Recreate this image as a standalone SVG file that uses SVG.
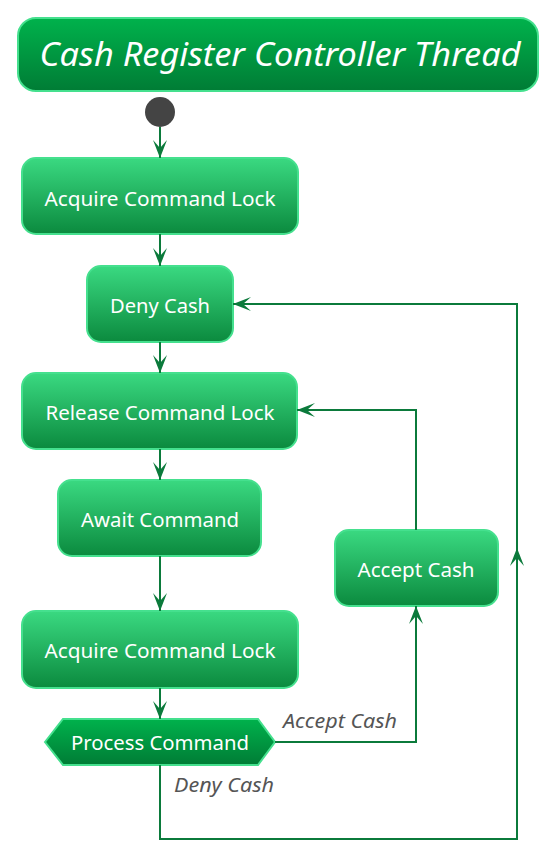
<svg xmlns="http://www.w3.org/2000/svg" width="560" height="857" viewBox="0 0 560 857">
<defs>
<linearGradient id="gNode" x1="0" y1="0" x2="0" y2="1">
<stop offset="0" stop-color="#3ad981"/>
<stop offset="1" stop-color="#0b8a3e"/>
</linearGradient>
<linearGradient id="gDark" x1="0" y1="0" x2="0" y2="1">
<stop offset="0" stop-color="#00b24c"/>
<stop offset="1" stop-color="#007c35"/>
</linearGradient>
<marker id="arr" markerUnits="userSpaceOnUse" viewBox="-20 -8 21 16" refX="0" refY="0" markerWidth="21" markerHeight="16" orient="auto">
<path d="M0,0 L-18,-7 L-10,0 L-18,7 Z" fill="#0b7a3b"/>
</marker>
<marker id="mid" markerUnits="userSpaceOnUse" viewBox="-20 -8 21 16" refX="0" refY="0" markerWidth="21" markerHeight="16" orient="auto">
<path d="M0,0 L-18,-7 L-10,0 L-18,7 Z" fill="#0b7a3b"/>
</marker>
</defs>
<style>
.node{fill:url(#gNode);stroke:#45e08e;stroke-width:2}
.dark{fill:url(#gDark);stroke:#45e08e;stroke-width:2}
.t{font-family:"Noto Sans","Open Sans",sans-serif;font-size:20.5px;fill:#ffffff;text-anchor:middle}
.lbl{font-family:"Noto Sans","Open Sans",sans-serif;font-size:19.5px;font-style:italic;fill:#555555}
.c{fill:none;stroke:#0b7a3b;stroke-width:2}
</style>
<g id="title">
<rect class="dark" x="18" y="18" width="520" height="73" rx="18"/>
<text x="280" y="66" textLength="481" lengthAdjust="spacingAndGlyphs" style="font-family:'Noto Sans','Open Sans',sans-serif;font-size:33px;font-style:italic;fill:#fff;text-anchor:middle">Cash Register Controller Thread</text>
</g>
<g id="start"><circle cx="160" cy="112" r="15" fill="#444444"/></g>
<g id="acquire1"><rect class="node" x="22" y="158" width="276" height="76" rx="14"/><text class="t" x="160" y="206" textLength="231" lengthAdjust="spacingAndGlyphs">Acquire Command Lock</text></g>
<g id="deny"><rect class="node" x="87" y="266" width="146" height="76" rx="14"/><text class="t" x="160" y="313" textLength="100" lengthAdjust="spacingAndGlyphs">Deny Cash</text></g>
<g id="release"><rect class="node" x="22" y="373" width="275" height="76" rx="14"/><text class="t" x="160" y="420" textLength="229" lengthAdjust="spacingAndGlyphs">Release Command Lock</text></g>
<g id="await"><rect class="node" x="58" y="480" width="203" height="76" rx="14"/><text class="t" x="160" y="527" textLength="158" lengthAdjust="spacingAndGlyphs">Await Command</text></g>
<g id="acquire2"><rect class="node" x="22" y="611" width="276" height="77" rx="14"/><text class="t" x="160" y="658" textLength="231" lengthAdjust="spacingAndGlyphs">Acquire Command Lock</text></g>
<g id="process"><polygon class="dark" points="45,742 63,719 258,719 275,742 258,765 63,765"/><text class="t" x="160" y="750" textLength="178" lengthAdjust="spacingAndGlyphs">Process Command</text></g>
<g id="accept"><rect class="node" x="335" y="530" width="163" height="76" rx="14"/><text class="t" x="416" y="577" textLength="117" lengthAdjust="spacingAndGlyphs">Accept Cash</text></g>
<g id="connectors">
<line class="c" x1="160" y1="127" x2="160" y2="158" marker-end="url(#arr)"/>
<line class="c" x1="160" y1="234" x2="160" y2="266" marker-end="url(#arr)"/>
<line class="c" x1="160" y1="342" x2="160" y2="373" marker-end="url(#arr)"/>
<line class="c" x1="160" y1="449" x2="160" y2="480" marker-end="url(#arr)"/>
<line class="c" x1="160" y1="556" x2="160" y2="611" marker-end="url(#arr)"/>
<line class="c" x1="160" y1="688" x2="160" y2="719" marker-end="url(#arr)"/>
<polyline class="c" points="275,742 416,742 416,606" marker-end="url(#arr)"/>
<polyline class="c" points="416,530 416,410 297,410" marker-end="url(#arr)"/>
<polyline class="c" points="160,765 160,839 517,839 517,548" marker-end="url(#mid)"/>
<polyline class="c" points="517,548 517,304 233,304" marker-end="url(#arr)"/>
<text class="lbl" x="283" y="728" textLength="114" lengthAdjust="spacingAndGlyphs">Accept Cash</text>
<text class="lbl" x="174" y="792" textLength="100" lengthAdjust="spacingAndGlyphs">Deny Cash</text>
</g>
</svg>
